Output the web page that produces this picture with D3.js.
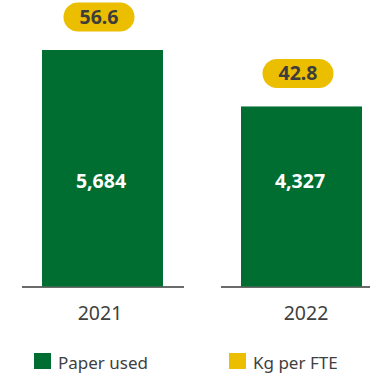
<!DOCTYPE html>
<html><head><meta charset="utf-8">
<script src="https://cdn.jsdelivr.net/npm/d3@7"></script>
<style>html,body{margin:0;padding:0;background:#fff;}svg{display:block;font-family:"Noto Sans",sans-serif;}</style>
</head><body><svg id="c" width="370" height="374"></svg>
<script>
const years = ["2021", "2022"];
const paperUsed = [5684, 4327];
const kgPerFte = [56.6, 42.8];
const legendLabels = ["Paper used", "Kg per FTE"];
const colors = ["#006e30", "#ebbe00"];

const svg = d3.select("#c");
const x = d3.scaleBand().domain(years).range([42, 362]).paddingInner(0.392).paddingOuter(0);
const y = d3.scaleLinear().domain([0, d3.max(paperUsed)]).range([286.5, 50]);
const data = years.map((yr, i) => ({yr, p: paperUsed[i], k: kgPerFte[i]}));

// axis segments
svg.selectAll("line.ax").data(data).enter().append("line")
  .attr("x1", d => x(d.yr) - 20).attr("x2", d => x(d.yr) + x.bandwidth() + 21)
  .attr("y1", 287).attr("y2", 287).attr("stroke", "#6b6b6b").attr("stroke-width", 2);

svg.selectAll("rect.bar").data(data).enter().append("rect")
  .attr("x", d => x(d.yr)).attr("width", x.bandwidth())
  .attr("y", d => y(d.p)).attr("height", d => y(0) - y(d.p))
  .attr("fill", colors[0]);

svg.selectAll("text.val").data(data).enter().append("text")
  .attr("x", d => x(d.yr) + x.bandwidth() / 2 - 1.5).attr("y", 188)
  .attr("text-anchor", "middle").attr("fill", "#fff").attr("font-weight", "bold")
  .attr("font-size", 19.5).text(d => d3.format(",")(d.p));

// pills
const pw = 71, ph = 29;
const pg = svg.selectAll("g.pill").data(data).enter().append("g")
  .attr("transform", d => `translate(${x(d.yr) + x.bandwidth() / 2 - 3.5},${y(d.p) - 33})`);
pg.append("rect").attr("x", -pw / 2).attr("y", -ph / 2).attr("width", pw).attr("height", ph)
  .attr("rx", 14.5).attr("fill", colors[1]);
pg.append("text").attr("y", 7).attr("text-anchor", "middle").attr("fill", "#3d3d3d")
  .attr("font-weight", "bold").attr("font-size", 19.5).text(d => d.k.toFixed(1));

// year labels
svg.selectAll("text.yr").data(data).enter().append("text")
  .attr("x", (d, i) => x(d.yr) + x.bandwidth() / 2 + (i === 0 ? -2.5 : 4.5)).attr("y", 320)
  .attr("text-anchor", "middle").attr("fill", "#404040").attr("font-size", 19.5).text(d => d.yr);

// legend
const lx = [34, 229];
const lg = svg.selectAll("g.leg").data(legendLabels).enter().append("g")
  .attr("transform", (d, i) => `translate(${lx[i]},353)`);
lg.append("rect").attr("width", 17).attr("height", 16).attr("fill", (d, i) => colors[i]);
lg.append("text").attr("x", 24).attr("y", 16).attr("fill", "#404040").attr("font-size", 17).text(d => d);
</script></body></html>
